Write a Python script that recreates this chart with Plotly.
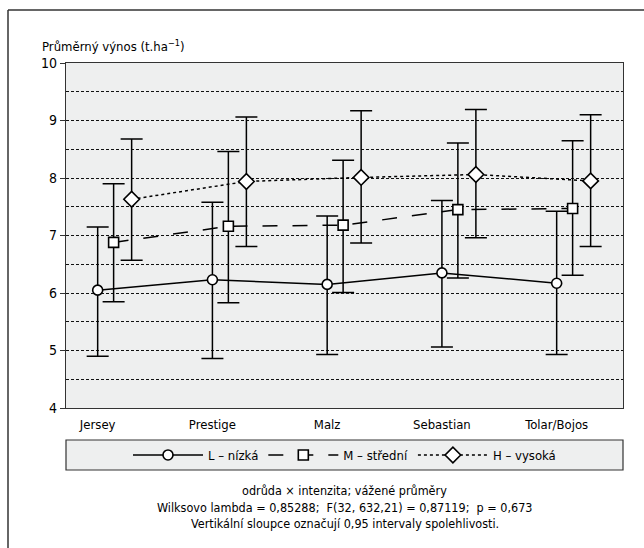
import plotly.graph_objects as go

categories = ["Jersey", "Prestige", "Malz", "Sebastian", "Tolar/Bojos"]
series_names = ["L – nízká", "M – střední", "H – vysoká"]

L_mean = [6.05, 6.23, 6.15, 6.35, 6.17]
L_upper = [7.15, 7.58, 7.34, 7.61, 7.42]
L_lower = [4.90, 4.86, 4.93, 5.06, 4.93]

M_mean = [6.88, 7.16, 7.18, 7.45, 7.47]
M_upper = [7.90, 8.46, 8.31, 8.61, 8.65]
M_lower = [5.85, 5.83, 6.01, 6.26, 6.31]

H_mean = [7.63, 7.94, 8.01, 8.06, 7.95]
H_upper = [8.68, 9.06, 9.17, 9.19, 9.10]
H_lower = [6.57, 6.81, 6.87, 6.96, 6.81]

y_ticks = [4, 5, 6, 7, 8, 9, 10]

FONT = "Liberation Sans Narrow, DejaVu Sans Condensed, Arial Narrow, sans-serif"

series = [
    (series_names[0], L_mean, L_upper, L_lower, "circle", "solid", 10, 0.0),
    (series_names[1], M_mean, M_upper, M_lower, "square", "longdash", 10, 0.139),
    (series_names[2], H_mean, H_upper, H_lower, "diamond", "dot", 12, 0.296),
]

fig = go.Figure()
for name, mean, up, lo, sym, dash, msize, off in series:
    xs = [i + off for i in range(len(categories))]
    fig.add_trace(go.Scatter(
        x=xs, y=mean, name=name, mode="lines+markers",
        line=dict(color="black", width=1.5, dash=dash),
        marker=dict(symbol=sym, size=msize, color="white",
                    line=dict(color="black", width=1.6)),
        error_y=dict(type="data", symmetric=False,
                     array=[u - m for u, m in zip(up, mean)],
                     arrayminus=[m - l for m, l in zip(mean, lo)],
                     color="black", thickness=1.5, width=11),
    ))

W, H = 644, 548
ml, mr, mt, mb = 66, 21, 63, 140
pw, ph = W - ml - mr, H - mt - mb

def px_x(p):
    return (p - ml) / pw

def px_y(p):
    return (H - mb - p) / ph

fig.update_layout(
    width=W, height=H,
    margin=dict(l=ml, r=mr, t=mt, b=mb, pad=0),
    paper_bgcolor="white",
    plot_bgcolor="#EEEFEF",
    font=dict(family=FONT, size=13, color="black"),
    showlegend=True,
    legend=dict(orientation="h", x=0.5, xanchor="center",
                y=px_y(455), yanchor="middle",
                bgcolor="rgba(0,0,0,0)", borderwidth=0,
                itemwidth=70, font=dict(size=13, family=FONT),
                traceorder="normal", itemclick=False),
    xaxis=dict(
        range=[-0.276, 4.578], tickvals=list(range(len(categories))),
        ticktext=categories, showgrid=False, zeroline=False,
        showline=True, mirror=True, linecolor="#333333", linewidth=1.2,
        ticks="", tickfont=dict(size=13, family=FONT), ticklabelstandoff=4,
    ),
    yaxis=dict(
        range=[4, 10], tickvals=y_ticks, showgrid=True,
        gridcolor="#111111", griddash="3px,2px", gridwidth=0.8,
        zeroline=False, showline=True, mirror=True,
        linecolor="#333333", linewidth=1.2,
        ticks="outside", ticklen=5, tickcolor="#333333",
        tickfont=dict(size=14, family=FONT),
        minor=dict(dtick=0.5, showgrid=True, gridcolor="#111111",
                   griddash="3px,2px", gridwidth=0.8, ticks=""),
    ),
    shapes=[
        dict(type="line", xref="paper", yref="paper",
             x0=px_x(8), x1=px_x(644), y0=px_y(10), y1=px_y(10),
             line=dict(color="#333333", width=1.5)),
        dict(type="line", xref="paper", yref="paper",
             x0=px_x(8), x1=px_x(8), y0=px_y(10), y1=px_y(548),
             line=dict(color="#333333", width=1.5)),
        dict(type="rect", xref="paper", yref="paper",
             x0=0, x1=1, y0=px_y(440), y1=px_y(470),
             fillcolor="#EEEFEF", line=dict(color="#333333", width=1.2),
             layer="below"),
    ],
    annotations=[
        dict(text="Průměrný výnos (t.ha<sup>−1</sup>)", xref="paper", yref="paper",
             x=px_x(40), y=px_y(46), xanchor="left", yanchor="middle",
             showarrow=False, font=dict(size=13, family=FONT)),
        dict(text="odrůda × intenzita; vážené průměry", xref="paper", yref="paper",
             x=0.5, y=px_y(490), xanchor="center", yanchor="middle",
             showarrow=False, font=dict(size=12.5, family=FONT)),
        dict(text="Wilksovo lambda = 0,85288;  F(32, 632,21) = 0,87119;  p = 0,673",
             xref="paper", yref="paper",
             x=0.5, y=px_y(507), xanchor="center", yanchor="middle",
             showarrow=False, font=dict(size=12.5, family=FONT)),
        dict(text="Vertikální sloupce označují 0,95 intervaly spolehlivosti.",
             xref="paper", yref="paper",
             x=0.5, y=px_y(523), xanchor="center", yanchor="middle",
             showarrow=False, font=dict(size=12.5, family=FONT)),
    ],
)

fig.write_html("out.html")
